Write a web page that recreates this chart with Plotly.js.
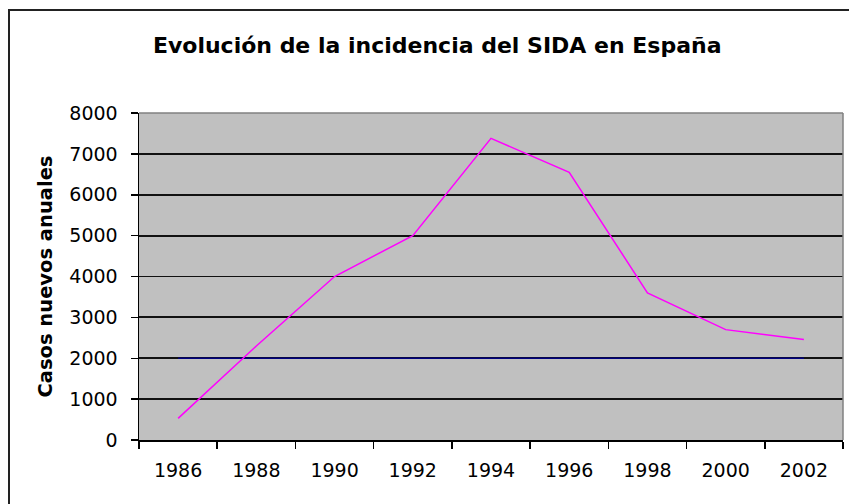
<!DOCTYPE html>
<html>
<head>
<meta charset="utf-8">
<script src="https://cdn.plot.ly/plotly-3.0.1.min.js"></script>
<style>html,body{margin:0;padding:0;background:#fff;}#chart{width:849px;height:504px;}</style>
</head>
<body>
<div id="chart"></div>
<script>
// Data
const years = ["1986", "1988", "1990", "1992", "1994", "1996", "1998", "2000", "2002"];
const casosNuevos = [530, 2300, 4000, 5000, 7380, 6550, 3600, 2700, 2460];
const referencia = [2000, 2000, 2000, 2000, 2000, 2000, 2000, 2000, 2000];
const yTicks = [0, 1000, 2000, 3000, 4000, 5000, 6000, 7000, 8000];

const FONT = "DejaVu Sans, Verdana, sans-serif";

const traces = [
  {
    x: years, y: referencia, type: "scatter", mode: "lines",
    line: {color: "#000080", width: 1.5}, hoverinfo: "skip", name: "2000"
  },
  {
    x: years, y: casosNuevos, type: "scatter", mode: "lines",
    line: {color: "#ff00ff", width: 1.5}, name: "Casos nuevos anuales"
  }
];

const layout = {
  width: 849, height: 504,
  margin: {l: 139, r: 6, t: 113, b: 64},
  paper_bgcolor: "#ffffff",
  plot_bgcolor: "#c0c0c0",
  showlegend: false,
  font: {family: FONT, color: "#000", size: 18},
  title: {
    text: "Evolución de la incidencia del SIDA en España",
    font: {family: FONT, size: 22, color: "#000", weight: "bold"},
    x: 0.515, xanchor: "center", xref: "container",
    y: 1 - 45/504, yanchor: "middle", yref: "container"
  },
  xaxis: {
    type: "category",
    range: [-0.5, years.length - 0.5],
    tickson: "boundaries",
    ticks: "outside", ticklen: 7, tickwidth: 1.5, tickcolor: "#000",
    ticklabelstandoff: 13,
    showline: true, linecolor: "#000", linewidth: 1.5,
    showgrid: false, zeroline: false,
    tickfont: {family: FONT, size: 19, color: "#000"},
    fixedrange: true
  },
  yaxis: {
    range: [0, 8000],
    tickvals: yTicks,
    ticktext: yTicks.map(String),
    ticks: "outside", ticklen: 7, tickwidth: 1.5, tickcolor: "#000",
    ticklabelstandoff: 9,
    showline: true, linecolor: "#000", linewidth: 1.5,
    showgrid: true, gridcolor: "#111", gridwidth: 1.8,
    zeroline: false,
    tickfont: {family: FONT, size: 19, color: "#000"},
    fixedrange: true
  },
  annotations: [
    {
      text: "Casos nuevos anuales",
      xref: "paper", yref: "paper",
      x: (45 - 139) / 704, y: 0.5,
      xanchor: "center", yanchor: "middle",
      textangle: -90, showarrow: false,
      font: {family: FONT, size: 19.5, color: "#000", weight: "bold"}
    }
  ],
  shapes: [
    // plot area border (top and right, gray)
    {type: "line", xref: "paper", yref: "paper", x0: 0, x1: 1, y0: 1, y1: 1,
     line: {color: "#808080", width: 1.5}, layer: "above"},
    {type: "line", xref: "paper", yref: "paper", x0: 1, x1: 1, y0: 0, y1: 1,
     line: {color: "#808080", width: 1.5}, layer: "above"},
    // outer chart frame
    {type: "rect", xref: "paper", yref: "paper",
     x0: (9 - 139) / 704, x1: 1.03, y0: (440 - 515) / 327, y1: (440 - 10) / 327,
     line: {color: "#222", width: 2}, layer: "above"}
  ]
};

Plotly.newPlot("chart", traces, layout, {displayModeBar: false, staticPlot: true});
</script>
</body>
</html>
